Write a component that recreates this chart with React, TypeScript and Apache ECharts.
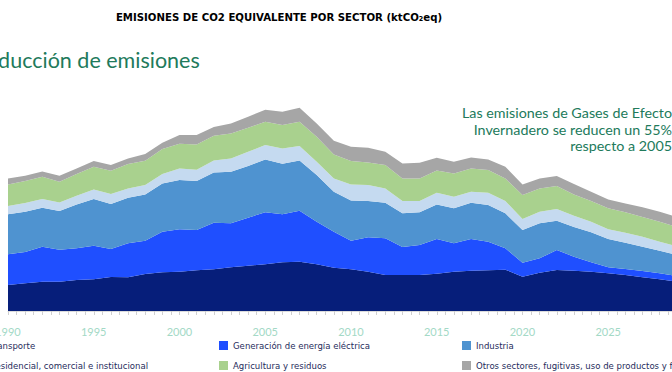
import React, { useEffect, useRef } from "react";
import * as echarts from "echarts";

const years = ["1990", "1991", "1992", "1993", "1994", "1995", "1996", "1997", "1998", "1999", "2000", "2001", "2002", "2003", "2004", "2005", "2006", "2007", "2008", "2009", "2010", "2011", "2012", "2013", "2014", "2015", "2016", "2017", "2018", "2019", "2020", "2021", "2022", "2023", "2024", "2025", "2026", "2027", "2028", "2029", "2030"];

const transporte = [54600, 58100, 61600, 61600, 65100, 66500, 71400, 70700, 77700, 81200, 82600, 85400, 87500, 91700, 95200, 98000, 102200, 103600, 98000, 91000, 87500, 82600, 75600, 75600, 75600, 78400, 82600, 84700, 85400, 86800, 72100, 80500, 86100, 84700, 82600, 79100, 75600, 70700, 66500, 61600, 57400];
const generacion = [64400, 65800, 73500, 67200, 66500, 70700, 58800, 71400, 70000, 85400, 88900, 84700, 98000, 92400, 100800, 109200, 100800, 107100, 89600, 75600, 60200, 72100, 77000, 58800, 63000, 72800, 59500, 66500, 60200, 44800, 29400, 30100, 42000, 29400, 19600, 12600, 12600, 13300, 12600, 11900, 11200];
const industria = [84000, 84700, 81900, 81200, 92400, 98000, 94500, 95900, 97300, 101500, 103600, 102900, 105700, 108500, 108500, 111300, 106400, 105700, 98000, 84000, 84700, 76300, 74900, 70700, 68600, 72800, 73500, 76300, 77000, 73500, 68600, 73500, 61600, 62300, 63000, 59500, 55300, 51100, 47600, 44100, 40600];
const residencial = [17500, 18200, 18200, 18200, 18200, 20300, 21000, 19600, 19600, 19600, 24500, 23800, 25200, 28000, 30100, 30100, 32200, 30100, 28000, 28000, 33600, 33600, 30100, 25900, 23800, 24500, 24500, 23100, 25900, 25900, 23100, 24500, 24500, 23800, 22400, 20300, 21000, 21000, 18900, 18200, 17500];
const agricultura = [45500, 46200, 46900, 43400, 45500, 47600, 49000, 51100, 51100, 52500, 51800, 53200, 51800, 52500, 50400, 49000, 49000, 51100, 52500, 50400, 49000, 47600, 49000, 47600, 47600, 46900, 49000, 49000, 47600, 47600, 50400, 49000, 48300, 44800, 43400, 44100, 42700, 41300, 42000, 40600, 39900];
const otros = [12600, 11200, 11200, 12600, 11900, 11900, 11900, 11900, 14000, 13300, 18200, 19600, 18200, 21000, 23100, 25200, 28000, 29400, 28000, 28700, 30100, 30800, 28000, 31500, 32900, 26600, 24500, 23100, 22400, 24500, 22400, 21000, 21000, 21700, 19600, 18900, 18900, 20300, 21000, 21000, 21000];

const seriesNames = [
  "Transporte",
  "Generación de energía eléctrica",
  "Industria",
  "Residencial, comercial e institucional",
  "Agricultura y residuos",
  "Otros sectores, fugitivas, uso de productos y fluorados",
];
const seriesValues = [transporte, generacion, industria, residencial, agricultura, otros];
const colors = ["#061e7a", "#1f4fff", "#4f93d0", "#c5daf0", "#a9d18e", "#a6a6a6"];

const titleText = "EMISIONES DE CO2 EQUIVALENTE POR SECTOR (ktCO₂eq)";
const subtitleText = "Reducción de emisiones";
const noteLines = ["Las emisiones de Gases de Efecto", "Invernadero se reducen un 55%", "respecto a 2005"];

const OFFSET = 60;
const W = 820;
const H = 372;
const green = "#217a5b";
const narrow = "'Liberation Sans Narrow', 'DejaVu Sans Condensed', 'Arial Narrow', sans-serif";

export default function App() {
  const ref = useRef<HTMLDivElement>(null);
  useEffect(() => {
    if (!ref.current) return;
    const chart = echarts.init(ref.current, null, { renderer: "svg" });
    const legendCommon = {
      orient: "vertical" as const,
      top: 339,
      padding: 0,
      itemWidth: 9,
      itemHeight: 9,
      itemGap: 7,
      icon: "rect",
      textStyle: { fontFamily: narrow, fontSize: 9.5, color: "#1f2d5c", lineHeight: 13, padding: [0, 0, 0, 0] },
    };
    const plotLeft = 8 + OFFSET;
    const plotRight = W - (8 + OFFSET + 40 * 17.15);
    chart.setOption({
      animation: false,
      title: {
        text: titleText,
        left: 334,
        top: 7,
        textAlign: "center",
        textStyle: { fontFamily: narrow, fontWeight: "bold", fontSize: 11.3, color: "#000" },
      },
      grid: { left: plotLeft, right: plotRight, top: 73, bottom: H - 311 },
      xAxis: [
        {
          type: "category",
          data: years,
          boundaryGap: false,
          axisLine: { show: false },
          axisTick: { show: false },
          splitLine: { show: false },
          axisLabel: {
            interval: 4,
            color: "#a3d9c6",
            fontFamily: "Lato, sans-serif",
            fontSize: 11,
            margin: 15,
          },
        },
        {
          type: "value",
          min: 1990,
          max: 2030,
          interval: 5,
          position: "bottom",
          axisLine: { show: true, lineStyle: { color: "#dcdcdc", width: 1 } },
          axisTick: { show: true, length: 4, lineStyle: { color: "#d0d0d0" } },
          minorTick: { show: true, splitNumber: 10, length: 4, lineStyle: { color: "#d0d0d0" } },
          splitLine: { show: false },
          axisLabel: { show: false },
        },
      ],
      yAxis: { type: "value", min: 0, max: 500000, show: false },
      legend: [
        { ...legendCommon, left: -24 + OFFSET, data: [seriesNames[0], seriesNames[3]] },
        { ...legendCommon, left: 219 + OFFSET, data: [seriesNames[1], seriesNames[4]] },
        { ...legendCommon, left: 462 + OFFSET, data: [seriesNames[2], seriesNames[5]] },
      ],
      graphic: [
        {
          type: "text",
          left: OFFSET - 26,
          top: 48.5,
          style: { text: subtitleText, fill: green, font: "21.5px Lato, sans-serif" },
        },
        ...noteLines.map((t, i) => ({
          type: "text",
          x: 672 + OFFSET,
          y: 112.7 + i * 16.3,
          style: { text: t, fill: green, font: "14.3px Lato, sans-serif", textAlign: "right", textVerticalAlign: "middle" },
        })),
      ],
      series: seriesNames.map((name, i) => ({
        name,
        type: "line",
        xAxisIndex: 0,
        stack: "total",
        symbol: "none",
        lineStyle: { width: 0 },
        areaStyle: { color: colors[i], opacity: 1 },
        itemStyle: { color: colors[i] },
        data: seriesValues[i],
      })),
    });
    return () => chart.dispose();
  }, []);
  return (
    <div style={{ position: "fixed", left: 0, top: 0, width: 672, height: H, overflow: "hidden", background: "#fff" }}>
      <div ref={ref} style={{ position: "absolute", left: -OFFSET, top: 0, width: W, height: H }} />
    </div>
  );
}
